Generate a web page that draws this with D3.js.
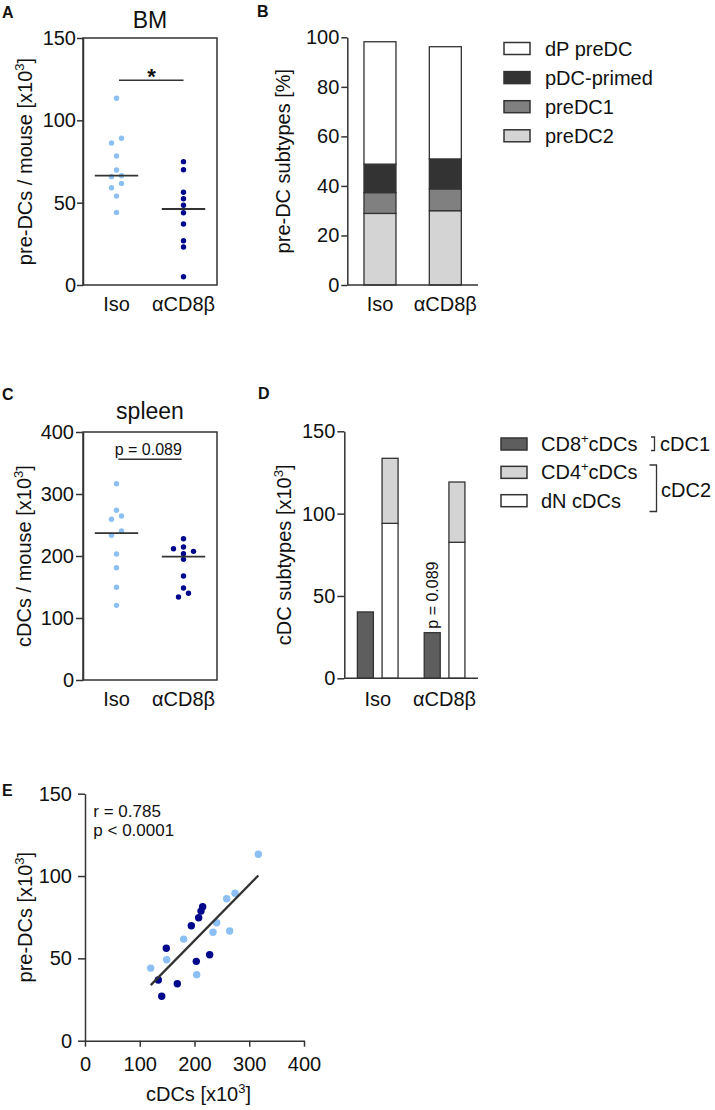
<!DOCTYPE html>
<html><head><meta charset="utf-8">
<script src="https://cdn.jsdelivr.net/npm/d3@7"></script>
<style>body{margin:0;background:#fff}</style>
</head><body>
<svg id="chart" width="715" height="1110"></svg>
<script>
// ---------- data ----------
const groups = ["Iso", "αCD8β"];

// A: pre-DCs per mouse in BM [x10^3]
const bmTicks = [0, 50, 100, 150];
const bmIso  = [113.4, 89.1, 86.2, 78.3, 69.8, 66.4, 65.8, 61.7, 59.1, 54.0, 44.1];
const bmAnti = [74.9, 70.0, 56.3, 52.4, 48.4, 43.9, 37.0, 26.9, 23.1, 5.0];

// B: pre-DC subtypes [%] (stack order bottom -> top)
const pctTicks = [0, 20, 40, 60, 80, 100];
const preDCSubtypes = ["preDC2", "preDC1", "pDC-primed", "dP preDC"];
const preDCIso  = [28.9, 8.4, 11.5, 49.4];
const preDCAnti = [30.0, 8.8, 12.1, 45.3];

// C: cDCs per mouse in spleen [x10^3]
const spleenTicks = [0, 100, 200, 300, 400];
const spleenIso  = [316.6, 273.7, 264.5, 259.2, 240.3, 233.3, 203.2, 181.1, 149.5, 120.4];
const spleenAnti = [227.9, 214.5, 211.8, 207.5, 203.7, 194.6, 167.7, 148.4, 139.8, 133.9];

// D: cDC subtypes [x10^3]
const cdcTicks = [0, 50, 100, 150];
const cd8Values = [40.3, 27.7];   // Iso, aCD8b
const dnValues  = [94.1, 82.6];
const cd4Values = [39.5, 36.6];

// E: correlation cDCs (x) vs pre-DCs (y)
const eXTicks = [0, 100, 200, 300, 400];
const eYTicks = [0, 50, 100, 150];
const corrCdcIso    = [316.6, 274.0, 258.7, 240.5, 233.8, 264.2, 180.2, 149.2, 120.0, 204.0];
const corrPreDCIso  = [113.2, 89.5, 86.2, 71.6, 65.9, 66.6, 61.7, 49.2, 44.1, 40.1];
const corrCdcAnti   = [214.9, 211.9, 207.6, 194.2, 148.5, 227.7, 203.3, 133.9, 168.6, 140.1];
const corrPreDCAnti = [81.4, 78.7, 74.7, 69.8, 56.1, 52.2, 48.2, 36.9, 34.6, 27.0];

// ---------- styling ----------
const FONT = "'Liberation Sans', Arial, Helvetica, sans-serif";
const INK = "#333333";
const TXT = "#111111";
const LIGHT = "#8cc0f4";
const NAVY = "#00078a";
const preDCColors = {"preDC2": "#d4d4d4", "preDC1": "#808080", "pDC-primed": "#333333", "dP preDC": "#ffffff"};
const cdcColors = {"cd8": "#5e5e5e", "cd4": "#d4d4d4", "dn": "#ffffff"};

const svg = d3.select("#chart").attr("font-family", FONT);
svg.append("rect").attr("width", 715).attr("height", 1110).attr("fill", "#fff");

function styleAxis(g, size) {
  g.attr("font-family", FONT).attr("font-size", size);
  g.selectAll("path.domain, .tick line").attr("stroke", INK).attr("stroke-width", 1.5);
  g.selectAll("text").attr("fill", TXT);
}
function supText(parent, x, y, rotate, before, sup, after, size, anchor) {
  const t = parent.append("text").attr("font-size", size)
    .attr("text-anchor", anchor || "middle").attr("fill", TXT);
  if (rotate) t.attr("transform", `translate(${x},${y}) rotate(-90)`);
  else t.attr("x", x).attr("y", y);
  t.append("tspan").text(before);
  if (sup) {
    t.append("tspan").attr("font-size", size * 0.65).attr("dy", -size * 0.42).text(sup);
    t.append("tspan").attr("dy", size * 0.42).text(after);
  }
  return t;
}
function panelLabel(x, y, s) {
  svg.append("text").attr("x", x).attr("y", y).attr("font-size", 16)
    .attr("font-weight", "bold").attr("fill", TXT).text(s);
}
function swarm(values, y, cx, step, thresh) {
  const sorted = values.map(v => ({v, y: y(v)})).sort((a, b) => a.y - b.y);
  const bins = [];
  sorted.forEach(p => {
    const last = bins[bins.length - 1];
    if (last && p.y - last[0].y < thresh) last.push(p); else bins.push([p]);
  });
  const odd = [0, -1, 1, -2, 2, -3, 3], even = [0.5, -0.5, 1.5, -1.5, 2.5, -2.5];
  const out = [];
  bins.forEach(b => b.forEach((p, i) =>
    out.push({v: p.v, y: p.y, x: cx + (b.length % 2 ? odd[i] : even[i]) * step})));
  return out;
}

// ---------- dot panels (A, C) ----------
function dotPanel(o) {
  const y = d3.scaleLinear().domain([0, o.ticks[o.ticks.length - 1]]).range([o.bottom, o.top]);
  const x = d3.scalePoint().domain(groups).range([o.left, o.right]).padding(0.5);
  const g = svg.append("g");
  g.append("rect").attr("x", o.left).attr("y", o.top)
    .attr("width", o.right - o.left).attr("height", o.bottom - o.top)
    .attr("fill", "none").attr("stroke", INK).attr("stroke-width", 1.5);
  const ax = g.append("g").attr("transform", `translate(${o.left},0)`)
    .call(d3.axisLeft(y).tickValues(o.ticks).tickSize(o.tickSize).tickPadding(o.tickPad).tickSizeOuter(0));
  styleAxis(ax, 20);
  [o.iso, o.anti].forEach((vals, i) => {
    const col = i === 0 ? LIGHT : NAVY;
    const pts = swarm(vals, y, x(groups[i]), 10, 5);
    g.selectAll(null).data(pts).enter().append("circle")
      .attr("cx", d => d.x).attr("cy", d => d.y).attr("r", 2.7).attr("fill", col);
    const med = d3.median(vals);
    g.append("line").attr("x1", x(groups[i]) - 21.7).attr("x2", x(groups[i]) + 21.7)
      .attr("y1", y(med)).attr("y2", y(med)).attr("stroke", INK).attr("stroke-width", 1.8);
    g.append("text").attr("x", x(groups[i])).attr("y", o.bottom + 26)
      .attr("text-anchor", "middle").attr("font-size", 20).attr("fill", TXT).text(groups[i]);
  });
  g.append("text").attr("x", (o.left + o.right) / 2).attr("y", o.titleY)
    .attr("text-anchor", "middle").attr("font-size", 23).attr("fill", TXT).text(o.title);
  supText(g, o.ylabX, (o.top + o.bottom) / 2, true, o.ylab[0], o.ylab[1], o.ylab[2], 20);
  return {x, y, g};
}

const A = dotPanel({top: 38, bottom: 285, left: 83, right: 217, ticks: bmTicks, iso: bmIso, anti: bmAnti,
  tickSize: 6, tickPad: 1, title: "BM", titleY: 28, ylabX: 32, ylab: ["pre-DCs / mouse [x10", "3", "]"]});
A.g.append("line").attr("x1", 119).attr("x2", A.x(groups[1])).attr("y1", 80.3).attr("y2", 80.3)
  .attr("stroke", INK).attr("stroke-width", 1.5);
A.g.append("text").attr("x", 151.5).attr("y", 84).attr("text-anchor", "middle")
  .attr("font-size", 22).attr("font-weight", "bold").attr("fill", TXT).text("*");
panelLabel(2, 18, "A");

const C = dotPanel({top: 432, bottom: 680, left: 83, right: 217, ticks: spleenTicks, iso: spleenIso, anti: spleenAnti,
  tickSize: 7, tickPad: 2, title: "spleen", titleY: 419, ylabX: 31, ylab: ["cDCs / mouse [x10", "3", "]"]});
C.g.append("line").attr("x1", 118.3).attr("x2", 181.7).attr("y1", 459.3).attr("y2", 459.3)
  .attr("stroke", INK).attr("stroke-width", 1.5);
C.g.append("text").attr("x", 148.3).attr("y", 455).attr("text-anchor", "middle")
  .attr("font-size", 16).attr("fill", TXT).text("p = 0.089");
panelLabel(2, 400, "C");

// ---------- B: stacked percentages ----------
(function () {
  const g = svg.append("g");
  const y = d3.scaleLinear().domain([0, 100]).range([285, 37.3]);
  const x = d3.scalePoint().domain(groups).range([347.3, 478]).padding(0.5);
  const rows = groups.map((gr, i) => {
    const r = {group: gr};
    const vals = i === 0 ? preDCIso : preDCAnti;
    preDCSubtypes.forEach((k, j) => r[k] = vals[j]);
    return r;
  });
  const series = d3.stack().keys(preDCSubtypes)(rows);
  series.forEach(s => {
    g.selectAll(null).data(s).enter().append("rect")
      .attr("x", d => x(d.data.group) - 16).attr("width", 32)
      .attr("y", d => y(d[1])).attr("height", d => y(d[0]) - y(d[1]))
      .attr("fill", preDCColors[s.key]).attr("stroke", INK).attr("stroke-width", 1.3);
  });
  const ax = g.append("g").attr("transform", "translate(347.3,0)")
    .call(d3.axisLeft(y).tickValues(pctTicks).tickSize(6).tickPadding(2).tickSizeOuter(0));
  styleAxis(ax, 20);
  g.append("line").attr("x1", x.range()[0]).attr("x2", x.range()[1]).attr("y1", y(0)).attr("y2", y(0))
    .attr("stroke", INK).attr("stroke-width", 1.5);
  groups.forEach(gr => g.append("text").attr("x", x(gr)).attr("y", 311).attr("text-anchor", "middle")
    .attr("font-size", 20).attr("fill", TXT).text(gr));
  g.append("text").attr("transform", `translate(290,${(y(0) + y(100)) / 2}) rotate(-90)`)
    .attr("text-anchor", "middle").attr("font-size", 20).attr("fill", TXT).text("pre-DC subtypes [%]");
  // legend
  const legendKeys = preDCSubtypes.slice().reverse();
  legendKeys.forEach((k, i) => {
    const cy = 48.5 + i * 29.1;
    g.append("rect").attr("x", 504).attr("y", cy - 6).attr("width", 26).attr("height", 12)
      .attr("fill", preDCColors[k]).attr("stroke", INK).attr("stroke-width", 1.5);
    g.append("text").attr("x", 545).attr("y", cy + 7).attr("font-size", 20).attr("fill", TXT).text(k);
  });
  panelLabel(257, 17, "B");
})();

// ---------- D: cDC subtypes ----------
(function () {
  const g = svg.append("g");
  const y = d3.scaleLinear().domain([0, 150]).range([678.3, 431.3]);
  const x = d3.scalePoint().domain(groups).range([344.3, 478]).padding(0.5);
  const sub = d3.scaleBand().domain(["cd8", "stack"]).range([-20.35, 20.35]).paddingInner(0.352);
  const bw = sub.bandwidth();
  groups.forEach((gr, i) => {
    const cx = x(gr);
    const segs = [
      {key: "cd8", x0: cx + sub("cd8"), lo: 0, hi: cd8Values[i]},
      {key: "dn", x0: cx + sub("stack"), lo: 0, hi: dnValues[i]},
      {key: "cd4", x0: cx + sub("stack"), lo: dnValues[i], hi: dnValues[i] + cd4Values[i]}
    ];
    g.selectAll(null).data(segs).enter().append("rect")
      .attr("x", d => d.x0).attr("width", bw)
      .attr("y", d => y(d.hi)).attr("height", d => y(d.lo) - y(d.hi))
      .attr("fill", d => cdcColors[d.key]).attr("stroke", INK).attr("stroke-width", 1.3);
    g.append("text").attr("x", cx).attr("y", 706).attr("text-anchor", "middle")
      .attr("font-size", 20).attr("fill", TXT).text(gr);
  });
  const ax = g.append("g").attr("transform", "translate(344.3,0)")
    .call(d3.axisLeft(y).tickValues(cdcTicks).tickSize(7).tickPadding(2).tickSizeOuter(0));
  styleAxis(ax, 20);
  g.append("line").attr("x1", x.range()[0]).attr("x2", x.range()[1]).attr("y1", y(0)).attr("y2", y(0))
    .attr("stroke", INK).attr("stroke-width", 1.5);
  supText(g, 291, (y(0) + y(150)) / 2, true, "cDC subtypes [x10", "3", "]", 20);
  // p value above aCD8b CD8 bar
  const px = x(groups[1]) + sub("cd8") + bw / 2 + 6;
  g.append("text").attr("transform", `translate(${px},${y(cd8Values[1]) - 4}) rotate(-90)`)
    .attr("font-size", 16).attr("fill", TXT).text("p = 0.089");
  // legend
  const leg = [{key: "cd8", a: "CD8", s: "+", b: "cDCs"}, {key: "cd4", a: "CD4", s: "+", b: "cDCs"},
               {key: "dn", a: "dN cDCs", s: null, b: ""}];
  leg.forEach((d, i) => {
    const cy = 444 + i * 28.35;
    g.append("rect").attr("x", 501).attr("y", cy - 6).attr("width", 26).attr("height", 12)
      .attr("fill", cdcColors[d.key]).attr("stroke", INK).attr("stroke-width", 1.5);
    supText(g, 541, cy + 7, false, d.a, d.s, d.b, 20, "start");
  });
  // brackets
  g.append("path").attr("d", "M651,437H654.5V450.5H651").attr("fill", "none").attr("stroke", INK).attr("stroke-width", 1.3);
  g.append("text").attr("x", 660).attr("y", 451).attr("font-size", 20).attr("fill", TXT).text("cDC1");
  g.append("path").attr("d", "M649.5,465H656.5V511.5H649.5").attr("fill", "none").attr("stroke", INK).attr("stroke-width", 1.3);
  g.append("text").attr("x", 661).attr("y", 497).attr("font-size", 20).attr("fill", TXT).text("cDC2");
  panelLabel(258, 399, "D");
})();

// ---------- E: correlation ----------
(function () {
  const g = svg.append("g");
  const x = d3.scaleLinear().domain([0, 400]).range([85, 304]);
  const y = d3.scaleLinear().domain([0, 150]).range([1040.7, 793.7]);
  const axL = g.append("g").attr("transform", "translate(85,0)")
    .call(d3.axisLeft(y).tickValues(eYTicks).tickSize(7).tickPadding(6).tickSizeOuter(0));
  styleAxis(axL, 20);
  const axB = g.append("g").attr("transform", "translate(0,1040.7)")
    .call(d3.axisBottom(x).tickValues(eXTicks).tickSize(6).tickPadding(10).tickSizeOuter(0));
  styleAxis(axB, 20);
  const isoPts = corrCdcIso.map((c, i) => [c, corrPreDCIso[i]]);
  const antiPts = corrCdcAnti.map((c, i) => [c, corrPreDCAnti[i]]);
  g.selectAll(null).data(isoPts).enter().append("circle")
    .attr("cx", d => x(d[0])).attr("cy", d => y(d[1])).attr("r", 3.7).attr("fill", LIGHT);
  g.selectAll(null).data(antiPts).enter().append("circle")
    .attr("cx", d => x(d[0])).attr("cy", d => y(d[1])).attr("r", 3.7).attr("fill", NAVY);
  const all = isoPts.concat(antiPts);
  const mx = d3.mean(all, d => d[0]), my = d3.mean(all, d => d[1]);
  const slope = d3.sum(all, d => (d[0] - mx) * (d[1] - my)) / d3.sum(all, d => (d[0] - mx) ** 2);
  const x0 = d3.min(all, d => d[0]), x1 = d3.max(all, d => d[0]);
  g.append("line").attr("x1", x(x0)).attr("y1", y(my + slope * (x0 - mx)))
    .attr("x2", x(x1)).attr("y2", y(my + slope * (x1 - mx)))
    .attr("stroke", INK).attr("stroke-width", 2.3);
  g.append("text").attr("x", 93.3).attr("y", 816.5).attr("font-size", 17).attr("fill", TXT).text("r = 0.785");
  g.append("text").attr("x", 93.3).attr("y", 836).attr("font-size", 17).attr("fill", TXT).text("p < 0.0001");
  supText(g, 32, (y(0) + y(150)) / 2, true, "pre-DCs [x10", "3", "]", 20);
  supText(g, (x(0) + x(400)) / 2 + 4, 1101, false, "cDCs [x10", "3", "]", 20);
  panelLabel(2, 796, "E");
})();
</script>
</body></html>
